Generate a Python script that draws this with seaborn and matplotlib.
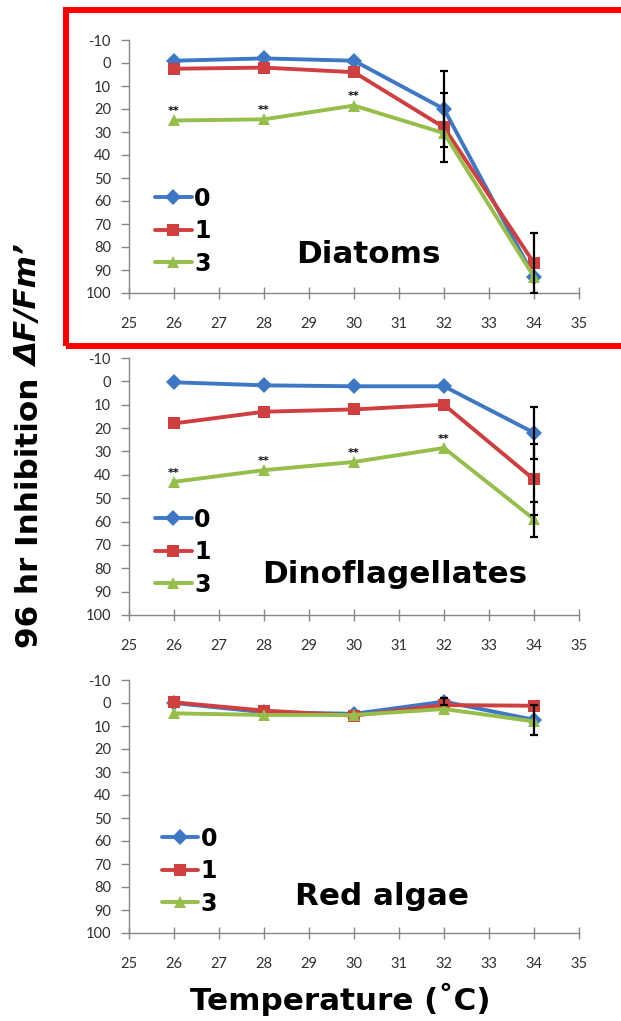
import numpy as np
import pandas as pd
import matplotlib
matplotlib.use('Agg')
import matplotlib.pyplot as plt
import seaborn as sns
from matplotlib.lines import Line2D
from matplotlib.patches import Rectangle

temps = [26, 28, 30, 32, 34]
series_names = ['0', '1', '3']
panel_names = ['Diatoms', 'Dinoflagellates', 'Red algae']

# mean inhibition per panel, one list per series (0, 1, 3)
diatoms_0 = [-1, -2, -1, 20, 93]
diatoms_1 = [2.5, 2, 4, 28, 87]
diatoms_3 = [25, 24.5, 18.5, 30.5, 93]
dino_0 = [0.4, 1.7, 2.1, 2.1, 22]
dino_1 = [18, 13, 12, 10, 42]
dino_3 = [43, 38, 34.5, 28.5, 59]
red_0 = [0, 4, 4.7, -0.6, 7.3]
red_1 = [-0.3, 3.3, 5.5, 0.9, 1.2]
red_3 = [4.5, 5.2, 5.2, 2.6, 8]

# error bars (0 = none visible)
diatoms_0_err = [0, 0, 0, 16.5, 0]
diatoms_1_err = [0, 0, 0, 15, 13]
diatoms_3_err = [0, 0, 0, 0, 0]
dino_0_err = [0, 0, 0, 0, 11.2]
dino_1_err = [0, 0, 0, 0, 15]
dino_3_err = [0, 0, 0, 0, 7.5]
red_0_err = [0, 0, 0, 1.5, 6.5]
red_1_err = [0, 0, 0, 0, 0]
red_3_err = [0, 0, 0, 0, 0]

# significance marks on the "3" series
diatoms_stars = [True, True, True, False, False]
dino_stars = [True, True, True, True, False]
red_stars = [False, False, False, False, False]

yticks = [-10, 0, 10, 20, 30, 40, 50, 60, 70, 80, 90, 100]
xticks = [25, 26, 27, 28, 29, 30, 31, 32, 33, 34, 35]

panels = [
    (diatoms_0, diatoms_1, diatoms_3, diatoms_0_err, diatoms_1_err, diatoms_3_err, diatoms_stars),
    (dino_0, dino_1, dino_3, dino_0_err, dino_1_err, dino_3_err, dino_stars),
    (red_0, red_1, red_3, red_0_err, red_1_err, red_3_err, red_stars),
]

colors = {'0': '#3E78C4', '1': '#CF3F3F', '3': '#95BE4A'}
markers = {'0': 'D', '1': 's', '3': '^'}

sns.set_style('white')
plt.rcParams['font.family'] = ['DejaVu Sans']
plt.rcParams['axes.unicode_minus'] = False
plt.rcParams['text.color'] = 'black'

W, H = 621, 1021
fig = plt.figure(figsize=(W / 100, H / 100), dpi=100)

# axes rectangles in pixels: (x_left, y_top, x_right, y_bottom)
boxes = [(129, 40, 579, 293), (129, 358, 579, 615), (129, 680, 579, 933)]
label_pos = [(0.531, 0.119), (0.591, 0.1245), (0.562, 0.111)]
legend_pos = [(0.058, 0.245), (0.058, 0.245), (0.073, 0.245)]

for i, (x0, y0, x1, y1) in enumerate(boxes):
    ax = fig.add_axes([x0 / W, 1 - y1 / H, (x1 - x0) / W, (y1 - y0) / H])
    s0, s1, s3, e0, e1, e3, stars = panels[i]
    df = pd.DataFrame({
        'temp': temps * 3,
        'val': s0 + s1 + s3,
        'conc': [n for n in series_names for _ in temps],
    })
    sns.lineplot(data=df, x='temp', y='val', hue='conc', style='conc',
                 palette=colors, markers=markers, dashes=False, markersize=8,
                 linewidth=2.8, markeredgewidth=0, legend=False, ax=ax,
                 errorbar=None, zorder=3)

    for vals, errs in [(s0, e0), (s1, e1), (s3, e3)]:
        t = np.array(temps)
        v = np.array(vals)
        e = np.array(errs)
        m = e > 0
        if m.any():
            ax.errorbar(t[m], v[m], yerr=e[m], fmt='none', ecolor='black',
                        elinewidth=1.6, capsize=3, capthick=1.6, zorder=5)

    for t, v, st in zip(temps, s3, stars):
        if st:
            ax.annotate('**', (t, v), xytext=(0, 3), textcoords='offset points',
                        ha='center', va='bottom', fontsize=8, fontweight='bold')

    ax.set_xlim(25, 35)
    ax.set_ylim(100, -10)
    ax.set_xticks(xticks)
    ax.set_yticks(yticks)
    ax.set_xticklabels([str(v) for v in xticks], family='Lato', fontsize=10.5, color='#303030')
    ax.set_yticklabels([str(v) for v in yticks], family='Lato', fontsize=10.5, color='#303030')
    ax.set_xlabel('')
    ax.set_ylabel('')
    for sp in ['top', 'right']:
        ax.spines[sp].set_visible(False)
    for sp in ['left', 'bottom']:
        ax.spines[sp].set_color('#868686')
        ax.spines[sp].set_linewidth(1)
    ax.tick_params(axis='y', direction='out', length=6, width=1, color='#868686', pad=7, left=True)
    ax.tick_params(axis='x', direction='inout', length=8, width=1, color='#868686', pad=13, bottom=True)
    ax.patch.set_alpha(0)

    handles = [Line2D([], [], color=colors[n], marker=markers[n], lw=2.8,
                      markersize=8, markeredgewidth=0) for n in series_names]
    leg = ax.legend(handles, series_names, loc='center left',
                    bbox_to_anchor=legend_pos[i], frameon=False, borderpad=0,
                    borderaxespad=0, handlelength=1.55, handletextpad=0.1,
                    labelspacing=0.36, prop={'size': 17, 'weight': 'bold'})
    for txt in leg.get_texts():
        txt.set_color('black')

    lx, ly = label_pos[i]
    ax.text(lx, ly, panel_names[i], transform=ax.transAxes, ha='center',
            va='baseline', fontsize=22.3, fontweight='bold', color='black')

# y label in two parts (plain + italic)
ylab1 = fig.text(30 / W, 1 - 648 / H, '96 hr Inhibition', rotation=90,
                 ha='center', va='bottom', fontsize=22.3, fontweight='bold')
fig.canvas.draw()
bb = ylab1.get_window_extent()
fig.text(30 / W, (bb.y1 + 11) / H, '\u0394F/Fm\u2019', rotation=90,
         ha='center', va='bottom', fontsize=22.3, fontweight='bold', fontstyle='italic')

fig.text(340 / W, 1 - 1010 / H, 'Temperature (\u02daC)', ha='center',
         va='baseline', fontsize=22.3, fontweight='bold')

# red highlight box around the top panel
fig.add_artist(Rectangle((66 / W, 1 - 346 / H), 0.95, 336 / H,
                         transform=fig.transFigure, fill=False,
                         edgecolor='#FF0000', lw=4.3, zorder=10))

fig.savefig('out.png', dpi=100)
